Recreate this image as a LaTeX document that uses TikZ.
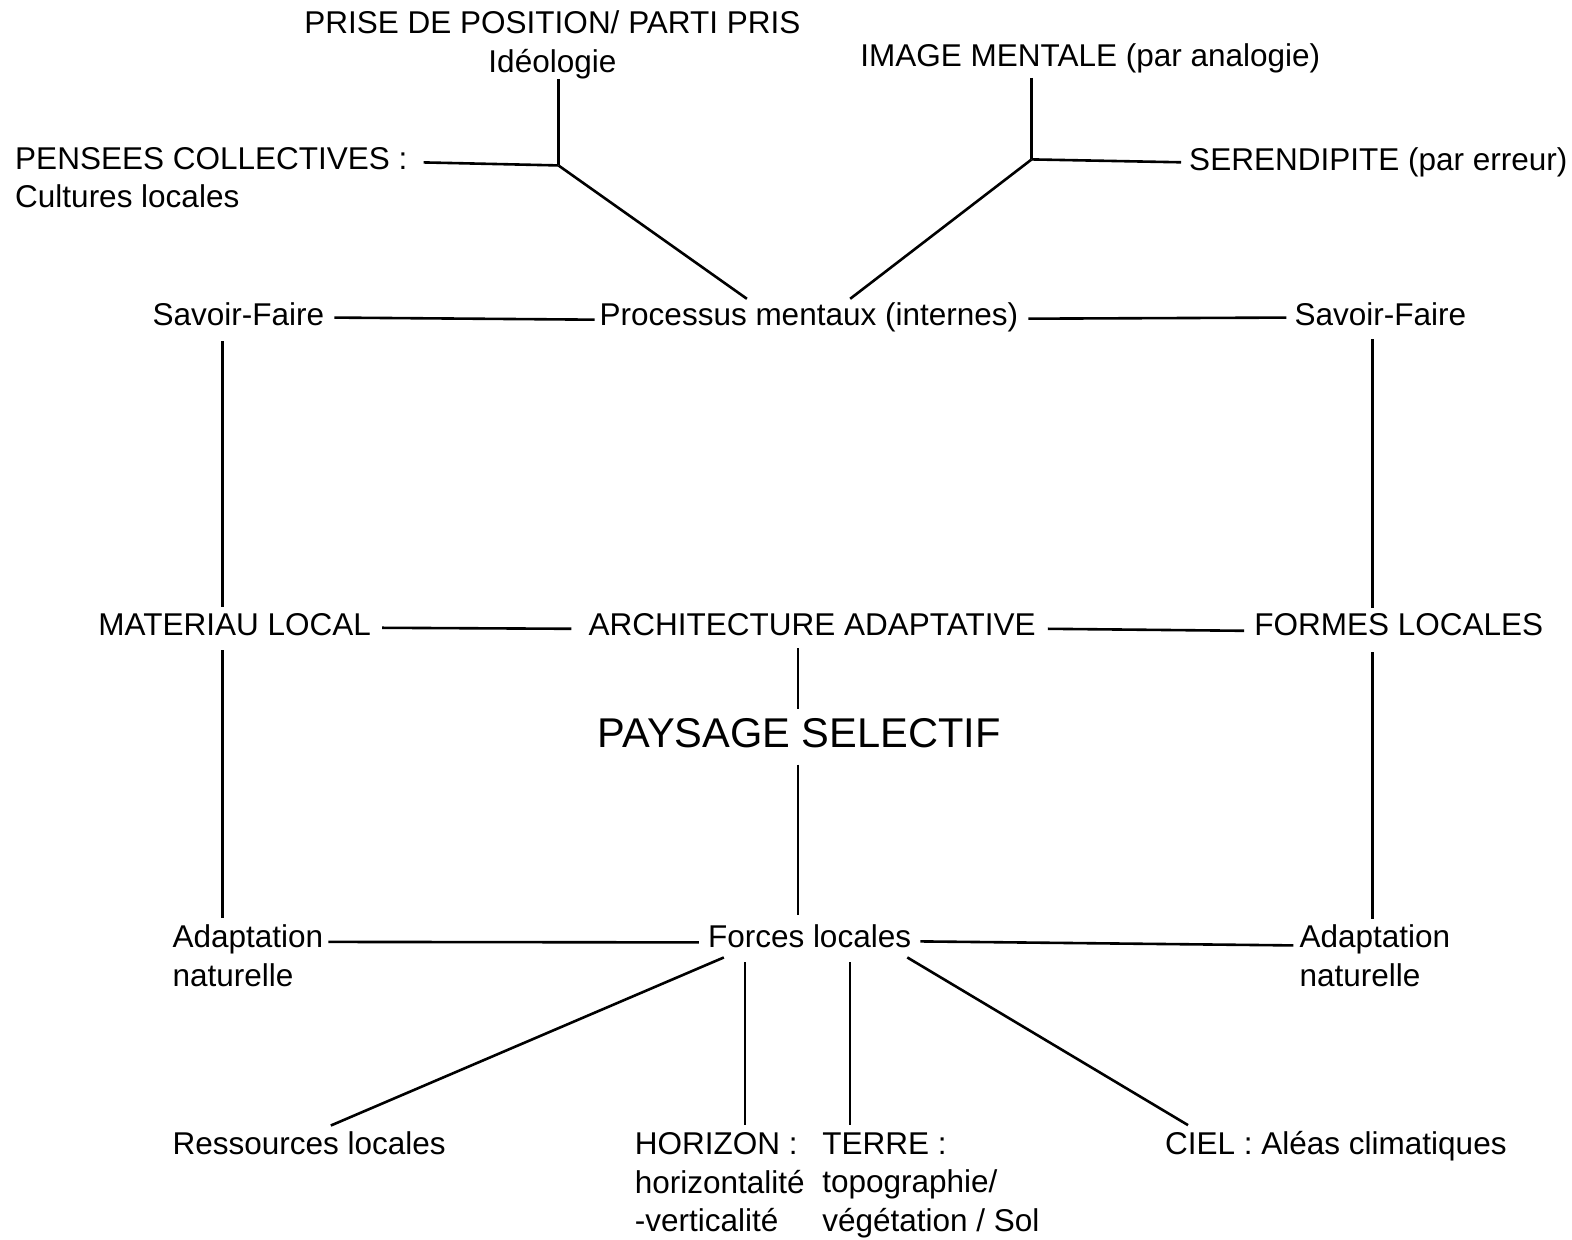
\documentclass[tikz,border=0pt]{standalone}
\usepackage{fontspec}
\setmainfont{Liberation Sans}
\usetikzlibrary{calc}
\begin{document}
\begin{tikzpicture}[x=1.00255pt,y=-1.00255pt,
 lab/.style={inner sep=0pt,anchor=base west,font=\fontsize{31.5}{38.6}\selectfont},
 mlab/.style={inner sep=0pt,anchor=north west,align=left,font=\fontsize{31.5}{38.6}\selectfont},
 ln/.style={line width=2.6pt}]
\fill[white] (0,0) rectangle (1568,1236);
\useasboundingbox (0,0) rectangle (1568,1236);
% nodes
\node[mlab,align=center,anchor=north] (prise) at (551,10.5) {PRISE DE POSITION/ PARTI PRIS\\Idéologie};
\node[lab] (image) at (858,66) {IMAGE MENTALE (par analogie)};
\node[mlab] (pensees) at (15,146.5) {PENSEES COLLECTIVES :\\Cultures locales};
\node[lab] (seren) at (1186,170) {SERENDIPITE (par erreur)};
\node[lab] (sfL) at (152,325) {Savoir-Faire};
\node[lab] (proc) at (598,325) {Processus mentaux (internes)};
\node[lab] (sfR) at (1291,325) {Savoir-Faire};
\node[lab] (mat) at (98,634) {MATERIAU LOCAL};
\node[lab] (arch) at (587,634) {ARCHITECTURE ADAPTATIVE};
\node[lab] (formes) at (1251,634) {FORMES LOCALES};
\node[lab,font=\fontsize{41.6}{48}\selectfont] (pays) at (596,746) {PAYSAGE SELECTIF};
\node[mlab] (adL) at (172,922.5) {Adaptation\\naturelle};
\node[lab] (forces) at (706,945) {Forces locales};
\node[mlab] (adR) at (1296,922.5) {Adaptation\\naturelle};
\node[lab] (ress) at (172,1152) {Ressources locales};
\node[mlab] (hor) at (633,1129.5) {HORIZON :\\horizontalité\\-verticalité};
\node[mlab] (terre) at (820,1129.5) {TERRE :\\topographie/\\végétation / Sol};
\node[lab] (ciel) at (1162,1152) {CIEL : Aléas climatiques};
% helper coordinates
\coordinate (jL) at (557,165);
\coordinate (jR) at (1029,159);
\coordinate (vL) at (222,0);
\coordinate (vR) at (1369,0);
\coordinate (vM) at (796,0);
% top-left
\draw[ln] (prise.south -| jL) -- (jL);
\draw[ln] ($(pensees.north east)+(16,15.5)$) -- (jL);
\draw[ln] (jL) -- ($(proc.north west)+(147,-4)$);
% top-right
\draw[ln] ([yshift=-5pt]image.south -| jR) -- (jR);
\draw[ln] (jR) -- ($(seren.west)+(-8,0)$);
\draw[ln] (jR) -- ($(proc.north west)+(250,-4)$);
% Savoir-Faire row
\draw[ln] ($(sfL.east)+(10,3)$) -- ($(proc.west)+(-5,2)$);
\draw[ln] ($(proc.east)+(10,1)$) -- ($(sfR.west)+(-8,3)$);
% verticals
\draw[ln] ([yshift=-15pt]sfL.south -| vL) -- ([yshift=6pt]mat.north -| vL);
\draw[ln] ([yshift=-14pt]mat.south -| vL) -- ([yshift=7pt]adL.north -| vL);
\draw[ln] ([yshift=-13pt]sfR.south -| vR) -- ([yshift=5pt]formes.north -| vR);
\draw[ln] ([yshift=-16pt]formes.south -| vR) -- ([yshift=6pt]adR.north -| vR);
% middle row
\draw[ln] ($(mat.east)+(11,3)$) -- ($(arch.west)+(-17,4)$);
\draw[ln] ($(arch.east)+(12,4)$) -- ($(formes.west)+(-10,6)$);
\draw[ln] ([yshift=-12pt]arch.south -| vM) -- ([yshift=10pt]pays.north -| vM);
\draw[ln] ([yshift=-16pt]pays.south -| vM) -- ([yshift=9pt]forces.north -| vM);
% bottom row
\draw[ln] ($(adL.north east)+(5,17)$) -- ($(forces.base west)+(-9,-5)$);
\draw[ln] ($(forces.base east)+(9,-6)$) -- ($(adR.north west)+(-6,20.5)$);
\draw[ln] ($(forces.base west)+(16,10)$) -- ($(ress.north west)+(158,-6.4)$);
\draw[ln] ($(forces.base west)+(37,15)$) -- ($(hor.north west)+(110,-7.5)$);
\draw[ln] ($(forces.base west)+(142,15)$) -- ($(terre.north west)+(28,-7.5)$);
\draw[ln] ($(forces.base west)+(199,10)$) -- ($(ciel.north west)+(23,-6.4)$);
\end{tikzpicture}
\end{document}
